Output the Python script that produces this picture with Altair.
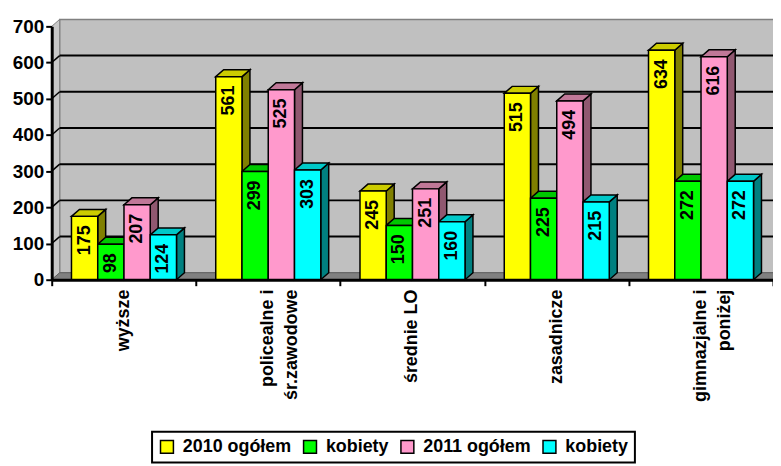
import altair as alt
import pandas as pd

# ---- data ----
CATEGORIES = ["wyższe", "policealne i\nśr.zawodowe", "średnie LO", "zasadnicze", "gimnazjalne i\nponiżej"]
SERIES = ["2010 ogółem", "kobiety 2010", "2011 ogółem", "kobiety 2011"]
OGOLEM_2010 = [175, 561, 245, 515, 634]
KOBIETY_2010 = [98, 299, 150, 225, 272]
OGOLEM_2011 = [207, 525, 251, 494, 616]
KOBIETY_2011 = [124, 303, 160, 215, 272]
Y_TICKS = [0, 100, 200, 300, 400, 500, 600, 700]

# ---- styles ----
FRONT = ["#FFFF00", "#00FF00", "#FF99CC", "#00FFFF"]
TOP = ["#CCCC00", "#00C800", "#C07898", "#00C8C8"]
SIDE = ["#808000", "#008800", "#905870", "#008080"]
FONT = "Liberation Sans"
W, H = 726, 255
YMAX = 700
NCAT = len(CATEGORIES)
DX = 8 * NCAT / W        # 3D depth in x data units (8 px)
DY = 7 * YMAX / H        # 3D depth in y data units (7 px)
GAP = 0.137              # left gap inside category band
BW = 0.182               # bar width in band units

values = [OGOLEM_2010, KOBIETY_2010, OGOLEM_2011, KOBIETY_2011]

bars, tops, sides = [], [], []
for i, cat in enumerate(CATEGORIES):
    for j, s in enumerate(SERIES):
        v = values[j][i]
        x0 = i + GAP + j * BW
        x1 = x0 + BW
        bid = f"{i}-{j}"
        bars.append(dict(id=bid, series=s, x=x0, x2=x1, xm=(x0 + x1) / 2, y=v, y2=0, v=v))
        tops += [
            dict(id=bid, fill=TOP[j], x=x0, y=v, y2=v),
            dict(id=bid, fill=TOP[j], x=x0 + DX, y=v + DY, y2=v),
            dict(id=bid, fill=TOP[j], x=x1, y=v + DY, y2=v),
            dict(id=bid, fill=TOP[j], x=x1 + DX, y=v + DY, y2=v + DY),
        ]
        sides += [
            dict(id=bid, fill=SIDE[j], x=x1, y=v, y2=0),
            dict(id=bid, fill=SIDE[j], x=x1 + DX, y=v + DY, y2=DY),
        ]
bars = pd.DataFrame(bars)
tops = pd.DataFrame(tops)
sides = pd.DataFrame(sides)

cats = pd.DataFrame(dict(label=CATEGORIES, xm=[i + 0.5 for i in range(NCAT)], y=[0] * NCAT))

back = pd.DataFrame([dict(x=DX, x2=NCAT + DX, y=DY, y2=YMAX + DY)])
leftwall = pd.DataFrame([dict(x=0, y=YMAX, y2=0), dict(x=DX, y=YMAX + DY, y2=DY)])
floor = pd.DataFrame([
    dict(x=0, y=0, y2=0), dict(x=DX, y=DY, y2=0),
    dict(x=NCAT, y=DY, y2=0), dict(x=NCAT + DX, y=DY, y2=DY),
])
grid_vals = [t for t in Y_TICKS if 0 < t < YMAX]
grid = pd.DataFrame(dict(x=[DX] * len(grid_vals), x2=[NCAT + DX] * len(grid_vals),
                         y=[g + DY for g in grid_vals]))
grid_diag = pd.DataFrame(dict(x=[0] * len(grid_vals), x2=[DX] * len(grid_vals),
                              y=grid_vals, y2=[g + DY for g in grid_vals]))

xscale = alt.Scale(domain=[0, NCAT], nice=False, zero=False)
yscale = alt.Scale(domain=[0, YMAX], nice=False)
xaxis = alt.Axis(values=list(range(NCAT + 1)), labels=False, ticks=True, tickSize=6,
                 tickColor="black", tickWidth=2, domainColor="black", domainWidth=3,
                 grid=False, title=None, zindex=1)
yaxis = alt.Axis(values=Y_TICKS, labelFont=FONT, labelFontSize=19, labelFontWeight="bold",
                 labelColor="black", labelPadding=2, tickSize=6, tickColor="black", tickWidth=2,
                 domainColor="black", domainWidth=3, grid=False, title=None, zindex=1)


def X(f="x"):
    return alt.X(f"{f}:Q", scale=xscale, axis=xaxis)


def Y(f="y"):
    return alt.Y(f"{f}:Q", scale=yscale, axis=yaxis)


back_l = alt.Chart(back).mark_rect(fill="#C0C0C0", stroke="#808080", strokeWidth=1.5).encode(
    x=X(), x2="x2:Q", y=Y(), y2="y2:Q")
left_l = alt.Chart(leftwall).mark_area(fill="#C8C8C8", stroke="#808080", strokeWidth=1).encode(
    x=X(), y=Y(), y2="y2:Q")
floor_l = alt.Chart(floor).mark_area(fill="#808080", stroke="#606060", strokeWidth=1).encode(
    x=X(), y=Y(), y2="y2:Q")
grid_l = alt.Chart(grid).mark_rule(color="black", strokeWidth=2).encode(
    x=X(), x2="x2:Q", y=Y())
gdiag_l = alt.Chart(grid_diag).mark_rule(color="black", strokeWidth=1.5).encode(
    x=X(), x2="x2:Q", y=Y(), y2="y2:Q")

side_l = alt.Chart(sides).mark_area(stroke="black", strokeWidth=1.5).encode(
    x=X(), y=Y(), y2="y2:Q", fill=alt.Fill("fill:N", scale=None), detail="id:N")
top_l = alt.Chart(tops).mark_area(stroke="black", strokeWidth=1.5).encode(
    x=X(), y=Y(), y2="y2:Q", fill=alt.Fill("fill:N", scale=None), detail="id:N")

label_expr = "replace(replace(datum.label, 'kobiety 2010', 'kobiety'), 'kobiety 2011', 'kobiety')"
front_l = alt.Chart(bars).mark_rect(stroke="black", strokeWidth=1.5).encode(
    x=X(), x2="x2:Q", y=Y(), y2="y2:Q",
    color=alt.Color("series:N", scale=alt.Scale(domain=SERIES, range=FRONT),
                    legend=alt.Legend(orient="none", legendX=101, legendY=408,
                                      direction="horizontal", columns=4, title=None,
                                      symbolType="square", symbolSize=169,
                                      symbolStrokeColor="black", symbolStrokeWidth=1.5,
                                      symbolOpacity=1,
                                      labelFont=FONT, labelFontSize=18, labelFontWeight="bold",
                                      labelColor="black", labelOffset=7, columnPadding=8,
                                      labelLimit=400, padding=6, strokeColor="black",
                                      fillColor="white", labelExpr=label_expr)),
)
vals_l = alt.Chart(bars).mark_text(angle=270, align="right", baseline="middle", yOffset=9,
                                   font=FONT, fontSize=18, fontWeight="bold", color="black").encode(
    x=X("xm"), y=Y("v"), text="v:Q")
cats_l = alt.Chart(cats).mark_text(angle=270, align="right", baseline="middle", yOffset=10,
                                   lineBreak="\n", lineHeight=24, font=FONT, fontSize=18,
                                   fontWeight="bold", color="black").encode(
    x=X("xm"), y=Y("y"), text="label:N")

chart = alt.layer(back_l, left_l, floor_l, grid_l, gdiag_l, side_l, top_l, front_l, vals_l, cats_l).properties(
    width=W, height=H,
    autosize=alt.AutoSizeParams(type="none"),
    padding={"left": 44, "top": 17, "right": 0, "bottom": 184},
    background="white",
).configure_view(stroke=None).configure_legend(strokeWidth=2)

chart.save("out.html", embed_options={"renderer": "svg", "actions": False})
